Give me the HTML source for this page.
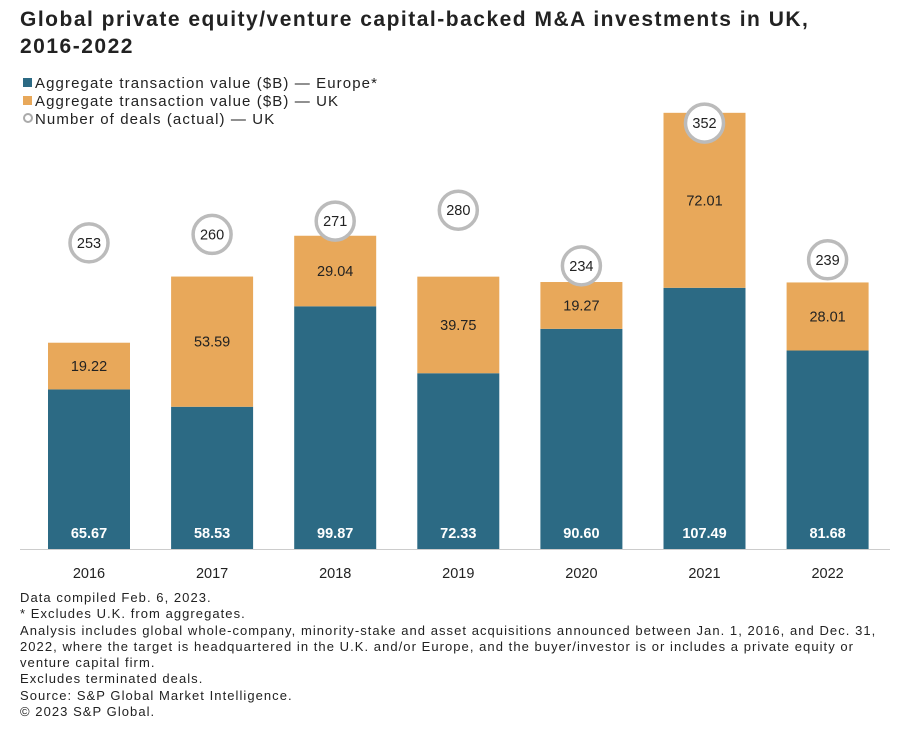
<!DOCTYPE html>
<html><head><meta charset="utf-8"><style>
body{margin:0;background:#fff;font-family:"Liberation Sans",sans-serif;}
#wrap{position:relative;width:910px;height:744px;overflow:hidden;}
.t{position:absolute;left:20px;top:6px;font-size:21px;font-weight:bold;color:#222;line-height:27px;letter-spacing:1.5px;}
.notes{position:absolute;left:20px;top:590px;font-size:13px;color:#222;line-height:16.3px;letter-spacing:1.05px;}
</style></head><body><div id="wrap">
<div class="t">Global private equity/venture capital-backed M&amp;A investments in UK,<br>2016-2022</div>
<svg id="svg" width="910" height="744" style="position:absolute;left:0;top:0"></svg>
<div class="notes">Data compiled Feb. 6, 2023.<br>* Excludes U.K. from aggregates.<br>Analysis includes global whole-company, minority-stake and asset acquisitions announced between Jan. 1, 2016, and Dec. 31,<br>2022, where the target is headquartered in the U.K. and/or Europe, and the buyer/investor is or includes a private equity or<br>venture capital firm.<br>Excludes terminated deals.<br>Source: S&amp;P Global Market Intelligence.<br>© 2023 S&amp;P Global.</div>
</div>
<script>
const years=["2016","2017","2018","2019","2020","2021","2022"];
const europe=[65.67,58.53,99.87,72.33,90.60,107.49,81.68];
const uk=[19.22,53.59,29.04,39.75,19.27,72.01,28.01];
const deals=[253,260,271,280,234,352,239];
const NS="http://www.w3.org/2000/svg";
const svg=document.getElementById('svg');
const base=549,k=2.43,dk=1.21;
function y(v){return base-v*k;}
function yd(d){return base-d*dk;}
function xc(i){return 89+i*123.1;}
function mk(tag,attrs,txt){const e=document.createElementNS(NS,tag);for(const a in attrs)e.setAttribute(a,attrs[a]);if(txt!==undefined)e.textContent=txt;svg.appendChild(e);return e;}
let e;
e=mk('rect',{x:23,y:78,width:9,height:9,fill:'#2c6a84'});

e=mk('text',{x:35,y:88,'font-size':15,'letter-spacing':1.1,fill:'#222'},'Aggregate transaction value ($B) — Europe*');

e=mk('rect',{x:23,y:96,width:9,height:9,fill:'#e8a85a'});

e=mk('text',{x:35,y:106,'font-size':15,'letter-spacing':1.1,fill:'#222'},'Aggregate transaction value ($B) — UK');

e=mk('circle',{cx:28,cy:118,r:4,fill:'#fff',stroke:'#aaa','stroke-width':2});

e=mk('text',{x:35,y:124,'font-size':15,'letter-spacing':1.1,fill:'#222'},'Number of deals (actual) — UK');

const bw=82;
years.forEach((yr,i)=>{
  const x=xc(i)-bw/2;
  e=mk('rect',{x:x,y:y(europe[i]),width:bw,height:base-y(europe[i]),fill:'#2c6a84'});
  
  e=mk('rect',{x:x,y:y(europe[i]+uk[i]),width:bw,height:uk[i]*k,fill:'#e8a85a'});
  
  e=mk('text',{x:xc(i),y:base-11,'font-size':14.5,'font-weight':'bold',fill:'#fff','text-anchor':'middle'},europe[i].toFixed(2));
  
  e=mk('text',{x:xc(i),y:y(europe[i]+uk[i]/2)+5,'font-size':14.5,fill:'#222','text-anchor':'middle'},uk[i].toFixed(2));
  
  e=mk('circle',{cx:xc(i),cy:yd(deals[i]),r:19,fill:'#fff',stroke:'#bbb','stroke-width':3.5});
  
  e=mk('text',{x:xc(i),y:yd(deals[i])+5,'font-size':14.5,fill:'#222','text-anchor':'middle'},String(deals[i]));
  
  e=mk('text',{x:xc(i),y:578,'font-size':14.5,fill:'#222','text-anchor':'middle'},yr);
  
});
e=mk('line',{x1:20,x2:890,y1:base+0.5,y2:base+0.5,stroke:'#ccc','stroke-width':1});

</script></body></html>
